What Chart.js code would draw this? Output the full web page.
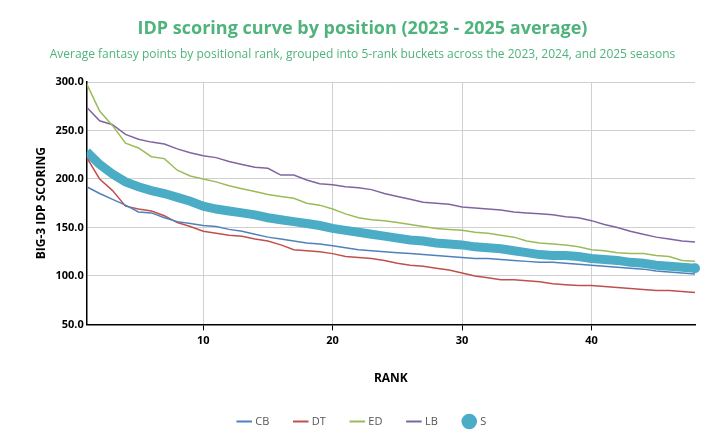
<!DOCTYPE html>
<html><head><meta charset="utf-8">
<script src="https://cdn.jsdelivr.net/npm/chart.js@4"></script>
<style>body{margin:0;background:#fff}#wrap{width:717px;height:443px}</style>
</head><body><div id="wrap"><canvas id="c"></canvas></div>
<script>
const ranks = Array.from({length: 48}, (_, i) => i + 1);
const xTicks = [10, 20, 30, 40];
const cb = [192,185,179,173,166,165,160,156,154,152,151,148,146,143,140,138,136,134,133,131,129,127,126,125,124,123,122,121,120,119,118,118,117,116,115,114,114,113,112,111,110,109,108,107,105,104,103,102];
const dt = [222,200,188,172,169,167,162,155,151,146,144,142,141,138,136,132,127,126,125,123,120,119,118,116,113,111,110,108,106,103,100,98,96,96,95,94,92,91,90,90,89,88,87,86,85,85,84,83];
const ed = [298,270,255,237,232,223,221,209,203,200,197,193,190,187,184,182,180,175,173,169,164,160,158,157,155,153,151,149,148,147,145,144,142,140,136,134,133,132,130,127,126,124,123,123,121,120,116,115];
const lb = [274,260,256,246,241,238,236,231,227,224,222,218,215,212,211,204,204,199,195,194,192,191,189,185,182,179,176,175,174,171,170,169,168,166,165,164,163,161,160,157,153,150,146,143,140,138,136,135];
const s = [228,215,205,197,192,188,185,181,177,172,169,167,165,163,160,158,156,154,152,149,147,145,143,141,139,137,136,134,133,132,130,129,128,126,124,122,121,121,120,118,117,116,114,113,111,110,109,108];

const pts = arr => arr.map((v, i) => ({x: ranks[i], y: v}));
const thin = (label, data, color) => ({label, data: pts(data), borderColor: color, backgroundColor: color,
  borderWidth: 1.5, pointRadius: 0, pointStyle: 'line', tension: 0});

Chart.defaults.font.family = "'Open Sans', sans-serif";
new Chart(document.getElementById('c'), {
  type: 'line',
  data: {datasets: [
    thin('CB', cb, '#4f81bd'),
    thin('DT', dt, '#c0504d'),
    thin('ED', ed, '#9bbb59'),
    thin('LB', lb, '#8064a2'),
    {label: 'S', data: pts(s), borderColor: '#4bacc6', backgroundColor: '#4bacc6', borderWidth: 9,
     pointRadius: 0, pointStyle: 'circle', tension: 0}
  ]},
  options: {
    responsive: true, maintainAspectRatio: false, animation: false,
    layout: {padding: {left: 30, right: 22, top: 4, bottom: 6}},
    plugins: {
      title: {display: true, text: 'IDP scoring curve by position (2023 - 2025 average)', color: '#4fb37c',
        font: {size: 18, weight: 'bold'}, padding: {top: 14, bottom: 8}},
      subtitle: {display: true, text: 'Average fantasy points by positional rank, grouped into 5-rank buckets across the 2023, 2024, and 2025 seasons',
        color: '#4fb37c', font: {size: 12}, padding: {bottom: 20}},
      legend: {position: 'bottom', labels: {usePointStyle: true, boxWidth: 12, color: '#555', font: {size: 11}, padding: 26,
        generateLabels: ch => Chart.defaults.plugins.legend.labels.generateLabels(ch).map(l => {
          if (l.pointStyle === 'circle') { l.lineWidth = 0; } else { l.lineWidth = 2; }
          return l;
        })}}
    },
    scales: {
      x: {type: 'linear', min: 1, max: 48,
        afterBuildTicks: a => { a.ticks = xTicks.map(v => ({value: v})); },
        grid: {color: '#d0d0d0', drawTicks: true, tickColor: '#000', tickLength: 6},
        border: {color: '#000', width: 1.5},
        ticks: {color: '#000', font: {size: 11, weight: 'bold'}, padding: 4},
        title: {display: true, text: 'RANK', color: '#000', font: {size: 12, weight: 'bold'}, padding: {top: 20}}},
      y: {min: 50, max: 300,
        ticks: {stepSize: 50, color: '#000', font: {size: 11, weight: 'bold'}, callback: v => v.toFixed(1)},
        grid: {color: '#d0d0d0', drawTicks: false},
        border: {color: '#000', width: 1.5},
        title: {display: true, text: 'BIG-3 IDP SCORING', color: '#000', font: {size: 12, weight: 'bold'}}}
    }
  },
  plugins: [{id: 'sDot', afterDatasetsDraw(ch) {
    const m = ch.getDatasetMeta(4), p = m.data[m.data.length - 1], c = ch.ctx;
    c.save(); c.fillStyle = '#4bacc6'; c.beginPath(); c.arc(p.x, p.y, 5, 0, Math.PI * 2); c.fill(); c.restore();
  }}]
});
</script></body></html>
